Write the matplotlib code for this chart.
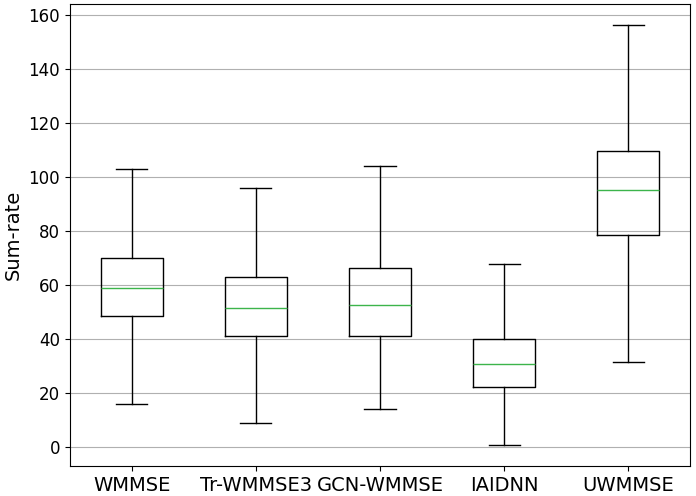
import matplotlib
matplotlib.use("Agg")
from matplotlib import pyplot as plt

# box statistics
methods = ["WMMSE", "Tr-WMMSE3", "GCN-WMMSE", "IAIDNN", "UWMMSE"]
whis_low = [15.9, 8.9, 14.1, 0.7, 31.5]
q1 = [48.5, 41.1, 41.1, 22.2, 78.5]
median = [58.9, 51.5, 52.6, 30.7, 95.2]
q3 = [70.2, 63.0, 66.3, 40.2, 109.6]
whis_high = [103.0, 96.0, 104.0, 67.8, 156.3]

stats = [
    dict(label=m, whislo=lo, q1=a, med=md, q3=b, whishi=hi, fliers=[])
    for m, lo, a, md, b, hi in zip(methods, whis_low, q1, median, q3, whis_high)
]

fig, ax = plt.subplots(figsize=(6.96, 4.96), dpi=100)
ax.bxp(stats, showfliers=False,
       medianprops=dict(color="#3cb44b", linewidth=1.0))
ax.yaxis.grid(True, color="#b0b0b0")
ax.set_axisbelow(True)
ax.set_ylabel("Sum-rate", fontsize=14)
ax.tick_params(axis="x", labelsize=14)
ax.tick_params(axis="y", labelsize=12)
fig.subplots_adjust(left=0.10, right=0.992, top=0.992, bottom=0.06)
fig.savefig("out.png")
